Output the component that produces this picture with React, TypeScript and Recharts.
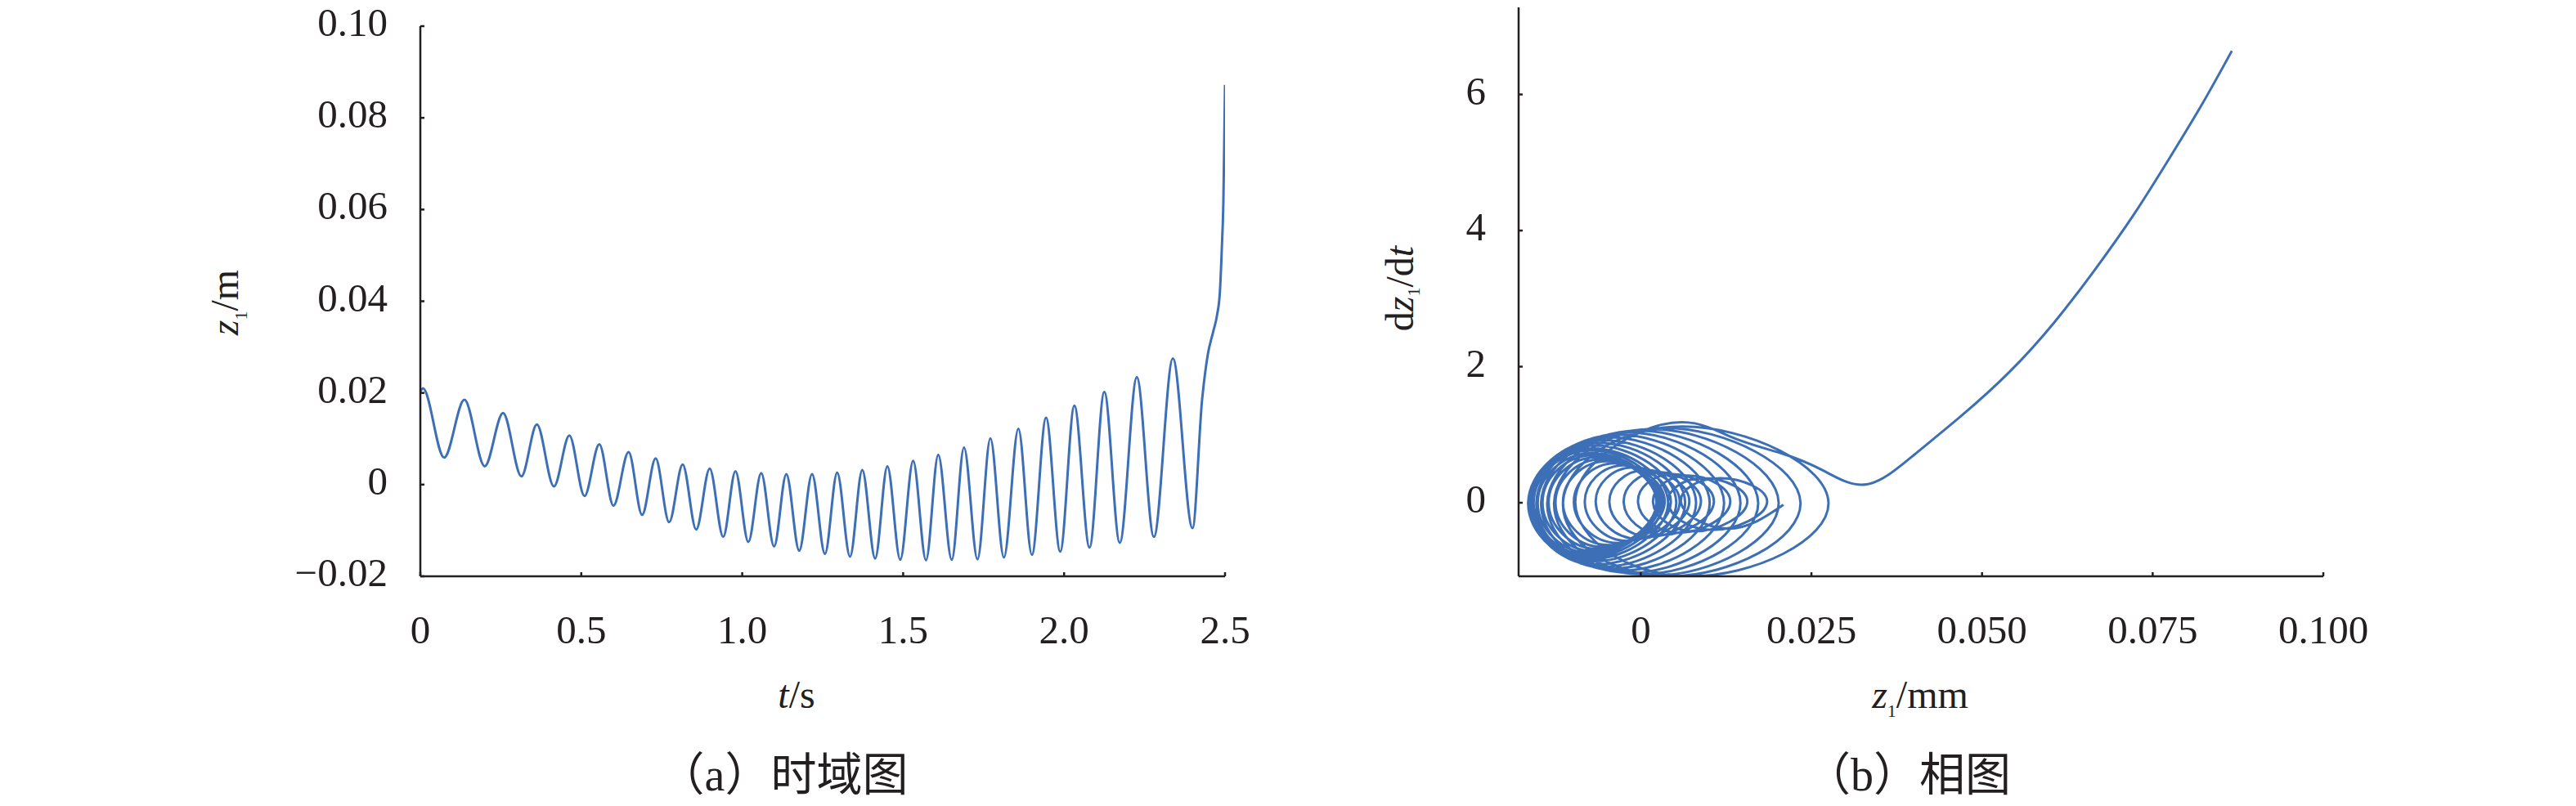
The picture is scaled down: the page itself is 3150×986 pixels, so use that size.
import React from 'react';
import { LineChart, Line, XAxis, YAxis } from 'recharts';

const SERIF = '"Liberation Serif", "Times New Roman", serif';
const CJK = '"Liberation Serif", "Noto Sans CJK SC", serif';
const INK = '#231f20';
const BLUE = '#3d6fb6';

// (a) time domain: tick values and labels
const timeTicks = [0, 0.5, 1, 1.5, 2, 2.5];
const timeTickLabels = ['0', '0.5', '1.0', '1.5', '2.0', '2.5'];
const zTicks = [-0.02, 0, 0.02, 0.04, 0.06, 0.08, 0.1];
const zTickLabels = ['\u22120.02', '0', '0.02', '0.04', '0.06', '0.08', '0.10'];

// (b) phase plot: tick values and labels
const phaseZTicks = [0, 0.025, 0.05, 0.075, 0.1];
const phaseZTickLabels = ['0', '0.025', '0.050', '0.075', '0.100'];
const phaseVTicks = [0, 2, 4, 6];
const phaseVTickLabels = ['0', '2', '4', '6'];

// z1 (m) against t (s), read at the turning points of the oscillation
const timeS = [
  0, 0.008, 0.074, 0.137, 0.2, 0.257, 0.314, 0.362, 0.415, 0.463, 0.51, 0.556,
  0.6, 0.647, 0.689, 0.731, 0.773, 0.815, 0.857, 0.899, 0.941, 0.979, 1.019,
  1.059, 1.099, 1.137, 1.177, 1.217, 1.257, 1.295, 1.335, 1.373, 1.413, 1.451,
  1.491, 1.531, 1.571, 1.609, 1.651, 1.689, 1.731, 1.771, 1.813, 1.858, 1.9,
  1.944, 1.988, 2.032, 2.079, 2.125, 2.173, 2.226, 2.279, 2.338, 2.399, 2.429,
  2.446, 2.463, 2.475, 2.484, 2.49, 2.495, 2.498, 2.5,
];
const z1M = [
  0.0203, 0.021, 0.0059, 0.0185, 0.004, 0.0156, 0.0018, 0.0131, -0.0004, 0.0107,
  -0.0025, 0.0088, -0.0046, 0.0071, -0.0066, 0.0057, -0.0082, 0.0044, -0.0098,
  0.0035, -0.0114, 0.0029, -0.0125, 0.0025, -0.0135, 0.0023, -0.0144, 0.0023,
  -0.0151, 0.0026, -0.0157, 0.0032, -0.0161, 0.004, -0.0164, 0.0052, -0.0165,
  0.0065, -0.0164, 0.0081, -0.0163, 0.0101, -0.0159, 0.0122, -0.0153, 0.0146,
  -0.0146, 0.0172, -0.0137, 0.0202, -0.0127, 0.0234, -0.0114, 0.0275, -0.0095,
  0.0187, 0.0282, 0.0333, 0.0369, 0.042, 0.0515, 0.0624, 0.077, 0.0872,
];

// phase trajectory dz1/dt against z1, in drawing order
const phaseZ = [
  0.0209,
  0.0127, 0.0059, 0.0116, 0.0185, 0.0105, 0.004, 0.0092, 0.0156,
  0.008, 0.0018, 0.0069, 0.0131, 0.0057, -0.0004, 0.0046, 0.0107,
  0.0034, -0.0025, 0.0026, 0.0088, 0.0014, -0.0046, 0.0007, 0.0071,
  -0.0004, -0.0066, -0.0011, 0.0057, -0.0019, -0.0082, -0.0025, 0.0044,
  -0.0034, -0.0098, -0.0038, 0.0035, -0.0047, -0.0114, -0.005, 0.0029,
  -0.0056, -0.0125, -0.0057, 0.0025, -0.0063, -0.0135, -0.0064, 0.0023,
  -0.0069, -0.0144, -0.0069, 0.0023, -0.0073, -0.0151, -0.0071, 0.0026,
  -0.0075, -0.0157, -0.0072, 0.0032, -0.0074, -0.0161, -0.0071, 0.004,
  -0.0072, -0.0164, -0.0067, 0.0052, -0.0067, -0.0165, -0.0061, 0.0065,
  -0.0061, -0.0164, -0.0054, 0.0081, -0.0053, -0.0163, -0.0044, 0.0101,
  -0.0042, -0.0159, -0.0033, 0.0122, -0.0029, -0.0153, -0.0018, 0.0146,
  -0.0015, -0.0146, -0.0003, 0.0172, 0.0002, -0.0137, 0.0016, 0.0202,
  0.0021, -0.0127, 0.0035, 0.0234, 0.0043, -0.0114, 0.0061, 0.0275,
  0.0071, -0.0096,
  0.0024, 0.0129, 0.0205, 0.0268, 0.0331, 0.04, 0.047, 0.054, 0.0605,
  0.0665, 0.0722, 0.0775, 0.0822, 0.0866,
];
const phaseV = [
  -0.03,
  -0.38, 0, 0.36, 0, -0.4, 0, 0.36, 0,
  -0.42, 0, 0.4, 0, -0.44, 0, 0.42, 0,
  -0.47, 0, 0.45, 0, -0.5, 0, 0.48, 0,
  -0.53, 0, 0.52, 0, -0.56, 0, 0.55, 0,
  -0.59, 0, 0.58, 0, -0.62, 0, 0.61, 0,
  -0.65, 0, 0.64, 0, -0.68, 0, 0.67, 0,
  -0.71, 0, 0.7, 0, -0.74, 0, 0.73, 0,
  -0.77, 0, 0.77, 0, -0.8, 0, 0.8, 0,
  -0.83, 0, 0.84, 0, -0.86, 0, 0.88, 0,
  -0.9, 0, 0.92, 0, -0.94, 0, 0.96, 0,
  -0.97, 0, 1.0, 0, -1.0, 0, 1.03, 0,
  -1.03, 0, 1.06, 0, -1.05, 0, 1.08, 0,
  -1.07, 0, 1.1, 0, -1.08, 0, 1.12, 0,
  -1.08, 0,
  1.13, 0.98, 0.73, 0.47, 0.27, 0.7, 1.28, 1.92, 2.64,
  3.42, 4.23, 5.07, 5.85, 6.64,
];

const timeData = timeS.map((t, i) => ({ t, z: z1M[i] }));
const phaseData = phaseZ.map((z, i) => ({ z, v: phaseV[i] }));

const tickStyle = { fontFamily: SERIF, fontSize: 49, fill: INK };
const axisStyle = { stroke: INK, strokeWidth: 2.5 };

const xTick = (ticks: number[], labels: string[]) => (props: any) => {
  const { x, y, payload } = props;
  const i = ticks.indexOf(payload.value);
  return (
    <text x={x} y={y + 87} textAnchor="middle" fontFamily={SERIF} style={tickStyle}>
      {i >= 0 ? labels[i] : payload.value}
    </text>
  );
};

const yTick = (ticks: number[], labels: string[]) => (props: any) => {
  const { x, y, payload } = props;
  const i = ticks.indexOf(payload.value);
  return (
    <text x={x} y={y + 12} textAnchor="end" fontFamily={SERIF} style={tickStyle}>
      {i >= 0 ? labels[i] : payload.value}
    </text>
  );
};

const titleStyle = { fontFamily: SERIF, fontSize: 48, fill: INK };
const captionStyle = { fontFamily: CJK, fontSize: 56, fill: INK };

export default function App() {
  return (
    <div style={{ position: 'absolute', left: 0, top: 0, width: 3150, height: 986, background: '#fff', overflow: 'hidden' }}>
      <div style={{ position: 'absolute', left: 0, top: 0 }}>
        <LineChart width={1560} height={986} data={timeData} margin={{ top: 32, right: 62, bottom: 221, left: 0 }}>
          <XAxis
            type="number" dataKey="t" domain={[0, 2.5]} ticks={timeTicks} interval={0}
            allowDataOverflow height={60} tickSize={-5} tickMargin={0}
            axisLine={axisStyle} tickLine={axisStyle} tick={xTick(timeTicks, timeTickLabels)}
          />
          <YAxis
            type="number" domain={[-0.02, 0.1]} ticks={zTicks} interval={0}
            allowDataOverflow width={514} tickSize={-5} tickMargin={45}
            axisLine={axisStyle} tickLine={axisStyle} tick={yTick(zTicks, zTickLabels)}
          />
          <Line dataKey="z" type="monotone" stroke={BLUE} strokeWidth={3} dot={false} isAnimationActive={false} />
        </LineChart>
      </div>

      <div style={{ position: 'absolute', left: 1600, top: 0 }}>
        <LineChart width={1300} height={986} data={phaseData} margin={{ top: 9, right: 59, bottom: 221, left: 0 }}>
          <XAxis
            type="number" dataKey="z" domain={[-0.0179, 0.1]} ticks={phaseZTicks} interval={0}
            allowDataOverflow height={60} tickSize={-5} tickMargin={0}
            axisLine={axisStyle} tickLine={axisStyle} tick={xTick(phaseZTicks, phaseZTickLabels)}
          />
          <YAxis
            type="number" domain={[-1.081, 7.28]} ticks={phaseVTicks} interval={0}
            allowDataOverflow width={257} tickSize={-5} tickMargin={45}
            axisLine={axisStyle} tickLine={axisStyle} tick={yTick(phaseVTicks, phaseVTickLabels)}
          />
          <Line dataKey="v" type="natural" stroke={BLUE} strokeWidth={3} dot={false} isAnimationActive={false} />
        </LineChart>
      </div>

      <svg width={3150} height={986} style={{ position: 'absolute', left: 0, top: 0, pointerEvents: 'none' }}>
        {/* axis titles */}
        <text x={974} y={866} textAnchor="middle" style={titleStyle}>
          <tspan fontStyle="italic">t</tspan>/s
        </text>
        <text x={2348} y={866} textAnchor="middle" style={titleStyle}>
          <tspan fontStyle="italic">z</tspan>
          <tspan fontSize={22} dy={11}>1</tspan>
          <tspan dy={-11}>/mm</tspan>
        </text>
        <text transform="translate(291,370) rotate(-90)" textAnchor="middle" style={titleStyle}>
          <tspan fontStyle="italic">z</tspan>
          <tspan fontSize={22} dy={11}>1</tspan>
          <tspan dy={-11}>/m</tspan>
        </text>
        <text transform="translate(1728,353) rotate(-90)" textAnchor="middle" style={titleStyle}>
          d<tspan fontStyle="italic">z</tspan>
          <tspan fontSize={22} dy={8}>1</tspan>
          <tspan dy={-8}>/d</tspan>
          <tspan fontStyle="italic">t</tspan>
        </text>

        {/* captions */}
        <text x={958} y={967} textAnchor="middle" style={captionStyle}>（a）时域图</text>
        <text x={2333} y={967} textAnchor="middle" style={captionStyle}>（b）相图</text>
      </svg>
    </div>
  );
}
